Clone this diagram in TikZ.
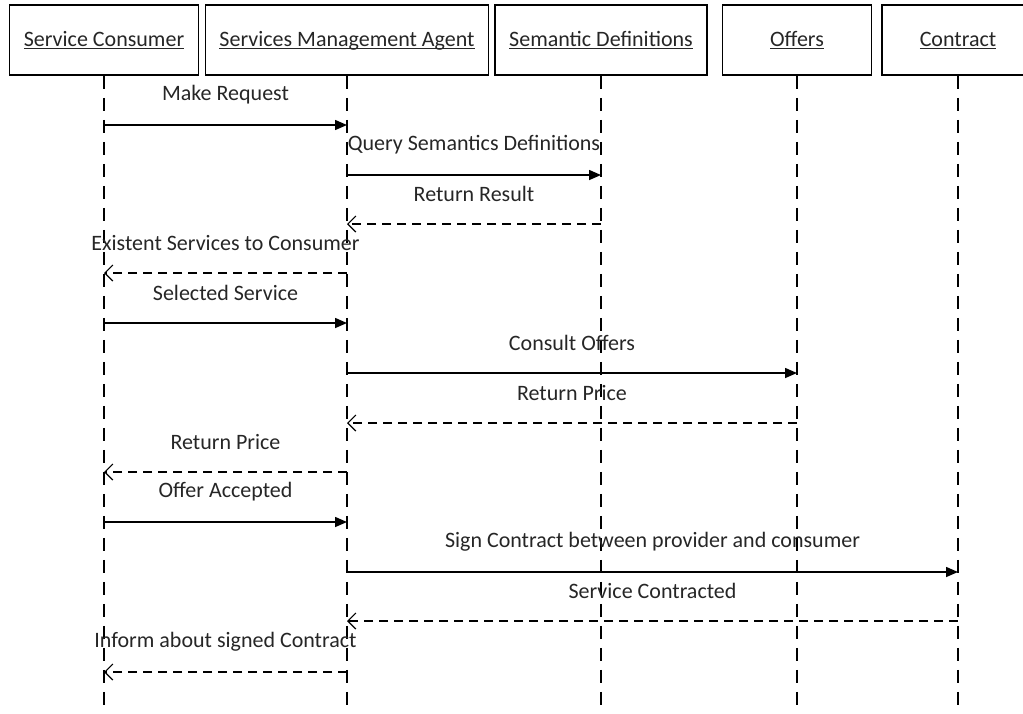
\documentclass[tikz,border=0pt]{standalone}
\usepackage{fontspec}
\setmainfont{Carlito}
\usetikzlibrary{arrows.meta}

\newcommand{\objname}[1]{\underline{\smash{#1}}}

\begin{document}
\begin{tikzpicture}
        [
            x                 = 0.5pt,
            y                 = -0.5pt,
            object/.style     = {shape=rectangle, draw, line width=0.75pt, minimum height=35pt, inner sep=0pt, text height=8pt, text depth=2pt},
            lifeline/.style   = {draw, line width=0.75pt, dash pattern=on 6.5pt off 4.5pt},
            call/.style       = {draw, line width=0.75pt, -{Triangle[length=6pt,width=5pt]}},
            reply/.style      = {draw, line width=0.6pt, dash pattern=on 4.5pt off 3pt, -{Straight Barb[length=4pt,width=8pt]}},
            msg/.style        = {yshift=15pt},
            every node/.style = {font=\fontsize{11}{13}\selectfont, text=black!85},
        ]
        \useasboundingbox (0,0) rectangle (1023,713);
        % objects
        \node [object, minimum width=94.5pt]  (consumer)  at (104,40)   {\objname{Service Consumer}};
        \node [object, minimum width=141.5pt] (agent)     at (347,40)   {\objname{Services Management Agent}};
        \node [object, minimum width=106pt]   (semantics) at (601,40)   {\objname{Semantic Definitions}};
        \node [object, minimum width=74.5pt]  (offers)    at (797,40)   {\objname{Offers}};
        \node [object, minimum width=76pt]    (contract)  at (958,40)   {\objname{Contract}};
        \coordinate (bottom) at (0,713);
        % lifelines
        \foreach \obj in {consumer, agent, semantics, offers, contract}
            \draw [lifeline] (\obj.south) -- (\obj.south |- bottom);
        % message rows
        \foreach \i/\y in {1/125, 2/175, 3/224, 4/273, 5/323, 6/373, 7/423, 8/472, 9/522, 10/572, 11/621, 12/672}
            \coordinate (m\i) at (0,\y);
        % messages
        \draw [call]  (consumer |- m1)  -- node [msg] {Make Request} (agent |- m1);
        \draw [call]  (agent |- m2)     -- node [msg] {Query Semantics Definitions} (semantics |- m2);
        \draw [reply] (semantics |- m3) -- node [msg] {Return Result} (agent |- m3);
        \draw [reply] (agent |- m4)     -- node [msg] {Existent Services to Consumer} (consumer |- m4);
        \draw [call]  (consumer |- m5)  -- node [msg] {Selected Service} (agent |- m5);
        \draw [call]  (agent |- m6)     -- node [msg] {Consult Offers} (offers |- m6);
        \draw [reply] (offers |- m7)    -- node [msg] {Return Price} (agent |- m7);
        \draw [reply] (agent |- m8)     -- node [msg] {Return Price} (consumer |- m8);
        \draw [call]  (consumer |- m9)  -- node [msg] {Offer Accepted} (agent |- m9);
        \draw [call]  (agent |- m10)    -- node [msg] {Sign Contract between provider and consumer} (contract |- m10);
        \draw [reply] (contract |- m11) -- node [msg] {Service Contracted} (agent |- m11);
        \draw [reply] (agent |- m12)    -- node [msg] {Inform about signed Contract} (consumer |- m12);
\end{tikzpicture}
\end{document}
